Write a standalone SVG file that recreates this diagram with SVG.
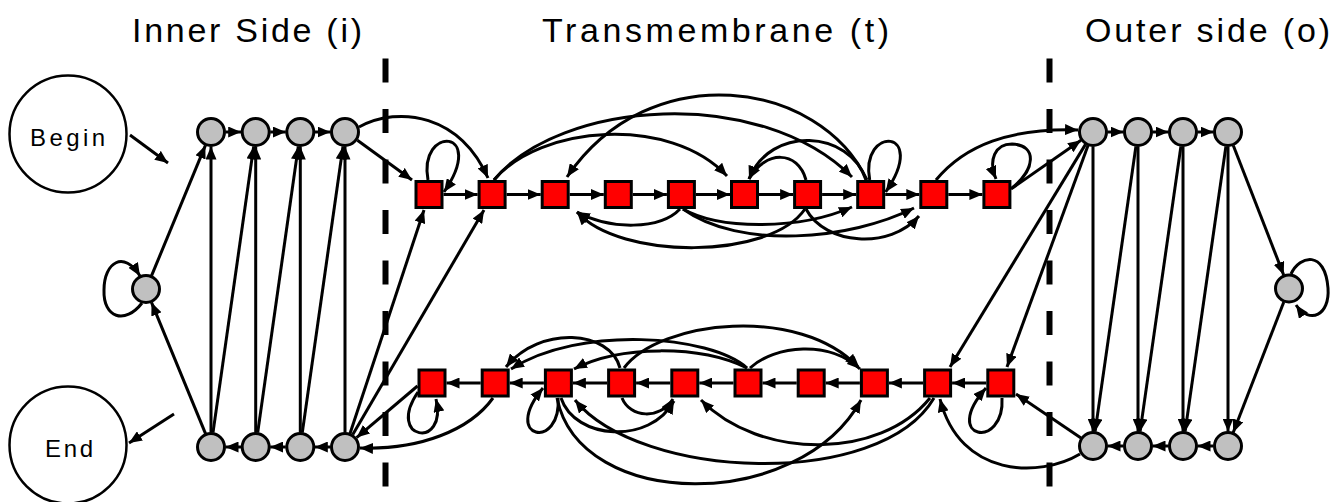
<svg xmlns="http://www.w3.org/2000/svg" width="1338" height="502" viewBox="0 0 1338 502">
<defs>
<marker id="a" viewBox="0 0 13 11" refX="13" refY="5.5" markerWidth="13" markerHeight="11" markerUnits="userSpaceOnUse" orient="auto"><path d="M0,0L13,5.5L0,11z" fill="#000"/></marker>
<style>
.t{font-family:"Liberation Sans",Arial,sans-serif;fill:#000}
.h{font-size:34px}
.l{font-size:24px}
.dash{stroke:#000;stroke-width:6;stroke-dasharray:24 26.5;fill:none}
.e path{fill:none;stroke:#000;stroke-width:3;marker-end:url(#a)}
.c{fill:#c0c0c0;stroke:#000;stroke-width:3}
.s{fill:#ff0000;stroke:#000;stroke-width:3}
.big{fill:#fff;stroke:#000;stroke-width:2.5}
</style>
</defs>
<rect width="1338" height="502" fill="#fff"/>
<g id="titles">
<text class="t h" x="132" y="42" textLength="230" lengthAdjust="spacing">Inner Side (i)</text>
<text class="t h" x="542" y="42" textLength="347" lengthAdjust="spacing">Transmembrane (t)</text>
<text class="t h" x="1085" y="42" textLength="245" lengthAdjust="spacing">Outer side (o)</text>
</g>
<g id="membranes">
<path class="dash" d="M385.5,58.5V488"/>
<path class="dash" d="M1049.5,58.5V488"/>
</g>
<g id="connectors" class="e">
<path d="M130,135L168,163"/>
<path d="M174,414L129,443"/>
<path d="M225.5,132L241.2,132"/>
<path d="M270.2,132L285.8,132"/>
<path d="M314.8,132L330.5,132"/>
<path d="M241.2,447L225.5,447"/>
<path d="M285.8,447L270.2,447"/>
<path d="M330.5,447L314.8,447"/>
<path d="M211,432.5L211,146.5"/>
<path d="M255.7,432.5L255.7,146.5"/>
<path d="M300.3,432.5L300.3,146.5"/>
<path d="M345,432.5L345,146.5"/>
<path d="M213,432.6L253.7,146.4"/>
<path d="M257.7,432.6L298.3,146.4"/>
<path d="M302.3,432.6L343,146.4"/>
<path d="M151.6,275.6L205.4,145.4"/>
<path d="M205.5,433.6L151.5,302.4"/>
<path d="M142,303C125,325 103,318 104,290C104,262 124,250 140,276"/>
<path d="M357.4,140.3L412,180"/>
<path d="M359,127C400,105 460,115 488,178"/>
<path d="M350.1,433.2L424,210"/>
<path d="M352.8,434.5L484,210"/>
<path d="M417.5,386L356.6,437.6"/>
<path d="M493,398C470,430 420,450 360,448"/>
<path d="M443.5,194.5L477.6,194.5"/>
<path d="M506.6,194.5L540.7,194.5"/>
<path d="M569.7,194.5L603.8,194.5"/>
<path d="M632.8,194.5L666.9,194.5"/>
<path d="M695.9,194.5L730,194.5"/>
<path d="M759,194.5L793.1,194.5"/>
<path d="M822.1,194.5L856.2,194.5"/>
<path d="M885.2,194.5L919.3,194.5"/>
<path d="M948.3,194.5L982.4,194.5"/>
<path d="M480.7,383L446.5,383"/>
<path d="M543.9,383L509.7,383"/>
<path d="M607.1,383L572.9,383"/>
<path d="M670.3,383L636.1,383"/>
<path d="M733.5,383L699.3,383"/>
<path d="M796.7,383L762.5,383"/>
<path d="M859.9,383L825.7,383"/>
<path d="M923.1,383L888.9,383"/>
<path d="M986.3,383L952.1,383"/>
<path d="M494,180C540,125 670,115 727,176"/>
<path d="M494,180C560,100 760,85 852,177"/>
<path d="M867,180C820,80 650,55 567,177"/>
<path d="M866,180C850,130 770,125 749,179"/>
<path d="M806,180C798,150 765,150 749,179"/>
<path d="M680,209C660,230 610,230 577,212"/>
<path d="M805,209C770,260 620,260 577,212"/>
<path d="M683,209C720,230 800,230 852,207"/>
<path d="M683,209C740,250 850,240 914,208"/>
<path d="M806,209C825,245 890,250 919,216"/>
<path d="M428,180C418,125 488,128 444,192"/>
<path d="M869.7,180C859.7,125 929.7,128 885.7,192"/>
<path d="M1012,188C1035,170 1038,145 1012,144C995,144 988,160 996,179"/>
<path d="M936,180C965,145 1010,128 1078,130"/>
<path d="M1011,189L1081,140.3"/>
<path d="M620,368C610,330 540,325 506,367"/>
<path d="M747,368C710,335 580,325 511,369"/>
<path d="M747,368C700,345 620,345 574,369"/>
<path d="M750,368C775,345 830,340 860,369"/>
<path d="M624,368C660,320 800,305 858,367"/>
<path d="M622,398C630,418 660,420 673,399"/>
<path d="M561,398C575,440 650,445 674,401"/>
<path d="M934,398C880,490 640,480 575,400"/>
<path d="M930,398C880,460 760,460 701,400"/>
<path d="M557,398C580,512 800,512 861,400"/>
<path d="M418,392C385,440 448,450 436,399"/>
<path d="M558,398C562,450 500,440 543,388"/>
<path d="M1002,398C1005,450 940,440 986,388"/>
<path d="M1085.5,144.4L950,367"/>
<path d="M1088,145.6L1007,367"/>
<path d="M1081,437.9L1016,394"/>
<path d="M1080,454C1040,478 960,478 940,399"/>
<path d="M1107.5,132L1123.5,132"/>
<path d="M1152.5,132L1168.5,132"/>
<path d="M1197.5,132L1213.5,132"/>
<path d="M1123.5,446L1107.5,446"/>
<path d="M1168.5,446L1152.5,446"/>
<path d="M1213.5,446L1197.5,446"/>
<path d="M1093,146.5L1093,431.5"/>
<path d="M1138,146.5L1138,431.5"/>
<path d="M1183,146.5L1183,431.5"/>
<path d="M1228,146.5L1228,431.5"/>
<path d="M1135.9,146.4L1095.1,431.6"/>
<path d="M1180.9,146.4L1140.1,431.6"/>
<path d="M1225.9,146.4L1185.1,431.6"/>
<path d="M1233.3,145.5L1283.7,275"/>
<path d="M1283.8,302L1233.2,432.5"/>
<path d="M1291,274C1300,255 1325,250 1328,288C1330,315 1310,325 1296,305"/>
</g>
<g id="begin"><circle class="big" cx="68" cy="134" r="58.5"/><text class="t l" x="30" y="146" textLength="75" lengthAdjust="spacing">Begin</text></g>
<g id="end"><circle class="big" cx="68" cy="445" r="58.5"/><text class="t l" x="45" y="457" textLength="48" lengthAdjust="spacing">End</text></g>
<g id="i-top-1"><circle class="c" cx="211" cy="132" r="13.5"/></g>
<g id="i-top-2"><circle class="c" cx="255.7" cy="132" r="13.5"/></g>
<g id="i-top-3"><circle class="c" cx="300.3" cy="132" r="13.5"/></g>
<g id="i-top-4"><circle class="c" cx="345" cy="132" r="13.5"/></g>
<g id="i-bot-1"><circle class="c" cx="211" cy="447" r="13.5"/></g>
<g id="i-bot-2"><circle class="c" cx="255.7" cy="447" r="13.5"/></g>
<g id="i-bot-3"><circle class="c" cx="300.3" cy="447" r="13.5"/></g>
<g id="i-bot-4"><circle class="c" cx="345" cy="447" r="13.5"/></g>
<g id="i-loop"><circle class="c" cx="146" cy="289" r="13.5"/></g>
<g id="o-top-1"><circle class="c" cx="1093" cy="132" r="13.5"/></g>
<g id="o-top-2"><circle class="c" cx="1138" cy="132" r="13.5"/></g>
<g id="o-top-3"><circle class="c" cx="1183" cy="132" r="13.5"/></g>
<g id="o-top-4"><circle class="c" cx="1228" cy="132" r="13.5"/></g>
<g id="o-bot-1"><circle class="c" cx="1093" cy="446" r="13.5"/></g>
<g id="o-bot-2"><circle class="c" cx="1138" cy="446" r="13.5"/></g>
<g id="o-bot-3"><circle class="c" cx="1183" cy="446" r="13.5"/></g>
<g id="o-bot-4"><circle class="c" cx="1228" cy="446" r="13.5"/></g>
<g id="o-loop"><circle class="c" cx="1289" cy="288.5" r="13.5"/></g>
<g id="t-top-1"><rect class="s" x="416" y="181.5" width="26" height="26"/></g>
<g id="t-top-2"><rect class="s" x="479.1" y="181.5" width="26" height="26"/></g>
<g id="t-top-3"><rect class="s" x="542.2" y="181.5" width="26" height="26"/></g>
<g id="t-top-4"><rect class="s" x="605.3" y="181.5" width="26" height="26"/></g>
<g id="t-top-5"><rect class="s" x="668.4" y="181.5" width="26" height="26"/></g>
<g id="t-top-6"><rect class="s" x="731.5" y="181.5" width="26" height="26"/></g>
<g id="t-top-7"><rect class="s" x="794.6" y="181.5" width="26" height="26"/></g>
<g id="t-top-8"><rect class="s" x="857.7" y="181.5" width="26" height="26"/></g>
<g id="t-top-9"><rect class="s" x="920.8" y="181.5" width="26" height="26"/></g>
<g id="t-top-10"><rect class="s" x="983.9" y="181.5" width="26" height="26"/></g>
<g id="t-bot-1"><rect class="s" x="419" y="370" width="26" height="26"/></g>
<g id="t-bot-2"><rect class="s" x="482.2" y="370" width="26" height="26"/></g>
<g id="t-bot-3"><rect class="s" x="545.4" y="370" width="26" height="26"/></g>
<g id="t-bot-4"><rect class="s" x="608.6" y="370" width="26" height="26"/></g>
<g id="t-bot-5"><rect class="s" x="671.8" y="370" width="26" height="26"/></g>
<g id="t-bot-6"><rect class="s" x="735" y="370" width="26" height="26"/></g>
<g id="t-bot-7"><rect class="s" x="798.2" y="370" width="26" height="26"/></g>
<g id="t-bot-8"><rect class="s" x="861.4" y="370" width="26" height="26"/></g>
<g id="t-bot-9"><rect class="s" x="924.6" y="370" width="26" height="26"/></g>
<g id="t-bot-10"><rect class="s" x="987.8" y="370" width="26" height="26"/></g>
</svg>
